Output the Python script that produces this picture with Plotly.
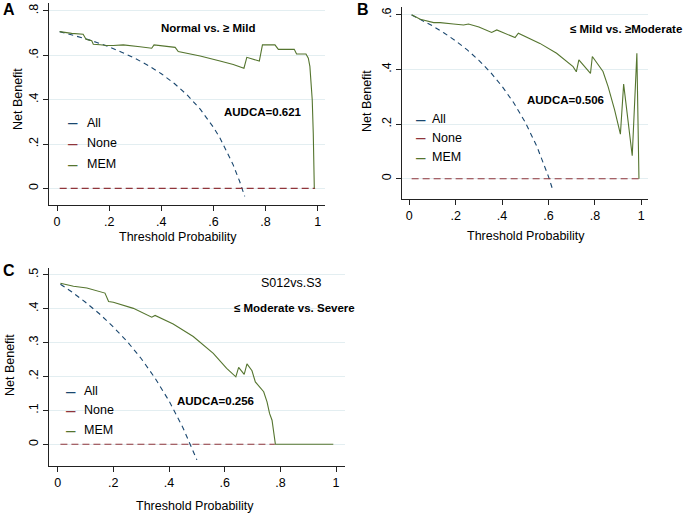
import plotly.graph_objects as go

W, H = 685, 515

# ---------------- data ----------------
series_names = ["All", "None", "MEM"]
x_tick_vals = [0, 0.2, 0.4, 0.6, 0.8, 1]
x_tick_text = ["0", ".2", ".4", ".6", ".8", "1"]

# Panel A : Normal vs. >= Mild
A_y_ticks = [0, 0.2, 0.4, 0.6, 0.8]
A_y_text = ["0", ".2", ".4", ".6", ".8"]
A_all_x = [0.01, 0.05, 0.10, 0.15, 0.20, 0.25, 0.30, 0.35, 0.40, 0.45, 0.50, 0.55, 0.60, 0.625, 0.65, 0.675, 0.70, 0.72]
A_all_y = [0.707, 0.695, 0.678, 0.659, 0.638, 0.613, 0.586, 0.554, 0.517, 0.473, 0.420, 0.356, 0.275, 0.227, 0.171, 0.108, 0.033, -0.036]
A_none_x = [0.01, 0.99]
A_none_y = [0, 0]
A_mem_x = [0.01, 0.056, 0.10, 0.111, 0.133, 0.139, 0.165, 0.19, 0.216, 0.254, 0.318, 0.363, 0.372, 0.453, 0.465,
           0.549, 0.625, 0.676, 0.717, 0.728, 0.776, 0.788, 0.836, 0.849, 0.910, 0.919, 0.955, 0.964, 0.970,
           0.974, 0.979, 0.983, 0.987]
A_mem_y = [0.707, 0.699, 0.695, 0.672, 0.666, 0.650, 0.648, 0.644, 0.644, 0.647, 0.639, 0.632, 0.647, 0.636, 0.617,
           0.597, 0.574, 0.559, 0.542, 0.591, 0.574, 0.647, 0.647, 0.627, 0.627, 0.606, 0.606, 0.587, 0.55,
           0.466, 0.40, 0.248, 0.0]

# Panel B : <= Mild vs. >= Moderate
B_y_ticks = [0, 0.2, 0.4, 0.6]
B_y_text = ["0", ".2", ".4", ".6"]
B_all_x = [0.01, 0.05, 0.10, 0.15, 0.20, 0.25, 0.30, 0.35, 0.40, 0.45, 0.50, 0.55, 0.60, 0.62]
B_all_y = [0.599, 0.582, 0.559, 0.533, 0.504, 0.471, 0.433, 0.389, 0.338, 0.278, 0.206, 0.118, 0.008, -0.045]
B_none_x = [0.01, 0.99]
B_none_y = [0, 0]
B_mem_x = [0.01, 0.047, 0.105, 0.133, 0.19, 0.234, 0.255, 0.30, 0.355, 0.377, 0.456, 0.47, 0.563, 0.635, 0.706,
           0.72, 0.731, 0.781, 0.789, 0.835, 0.857, 0.885, 0.91, 0.924, 0.961, 0.981, 0.99]
B_mem_y = [0.600, 0.583, 0.571, 0.571, 0.566, 0.562, 0.566, 0.555, 0.535, 0.544, 0.516, 0.532, 0.495, 0.459, 0.41,
           0.391, 0.435, 0.385, 0.447, 0.392, 0.337, 0.252, 0.163, 0.346, 0.084, 0.459, 0.0]

# Panel C : <= Moderate vs. Severe
C_y_ticks = [0, 0.1, 0.2, 0.3, 0.4, 0.5]
C_y_text = ["0", ".1", ".2", ".3", ".4", ".5"]
C_all_x = [0.01, 0.05, 0.10, 0.15, 0.20, 0.25, 0.30, 0.35, 0.40, 0.45, 0.50]
C_all_y = [0.472, 0.450, 0.419, 0.385, 0.346, 0.303, 0.253, 0.195, 0.128, 0.049, -0.046]
C_none_x = [0.01, 0.78]
C_none_y = [0, 0]
C_mem_x = [0.01, 0.057, 0.105, 0.14, 0.17, 0.183, 0.2, 0.272, 0.338, 0.35, 0.415, 0.487, 0.559, 0.607, 0.64,
           0.65, 0.67, 0.68, 0.698, 0.71, 0.74, 0.752, 0.761, 0.77, 0.782, 0.99]
C_mem_y = [0.475, 0.466, 0.461, 0.453, 0.446, 0.421, 0.419, 0.401, 0.375, 0.38, 0.355, 0.318, 0.268, 0.224, 0.199,
           0.227, 0.206, 0.237, 0.217, 0.184, 0.155, 0.125, 0.091, 0.071, 0.0, 0.0]

col_all = "#1a476f"
col_none = "#90353b"
col_mem = "#55752f"
FONT = "Liberation Sans, Arial, sans-serif"

fig = go.Figure()

panels = [
    dict(xa="x", ya="y", ax_x="xaxis", ax_y="yaxis",
         all=(A_all_x, A_all_y), none=(A_none_x, A_none_y), mem=(A_mem_x, A_mem_y),
         xdom=[49 / W, 325 / W], ydom=[1 - 205 / H, 1 - 3 / H], xr=[-0.031, 1.028], yr=[-0.075, 0.836],
         yt=(A_y_ticks, A_y_text)),
    dict(xa="x2", ya="y2", ax_x="xaxis2", ax_y="yaxis2",
         all=(B_all_x, B_all_y), none=(B_none_x, B_none_y), mem=(B_mem_x, B_mem_y),
         xdom=[402 / W, 648 / W], ydom=[1 - 199 / H, 1 - 7 / H], xr=[-0.0315, 1.029], yr=[-0.074, 0.628],
         yt=(B_y_ticks, B_y_text)),
    dict(xa="x3", ya="y3", ax_x="xaxis3", ax_y="yaxis3",
         all=(C_all_x, C_all_y), none=(C_none_x, C_none_y), mem=(C_mem_x, C_mem_y),
         xdom=[49 / W, 345 / W], ydom=[1 - 466 / H, 1 - 268 / H], xr=[-0.031, 1.032], yr=[-0.064, 0.52],
         yt=(C_y_ticks, C_y_text)),
]

for p in panels:
    fig.add_trace(go.Scatter(x=p["all"][0], y=p["all"][1], mode="lines", name=series_names[0],
                             line=dict(color=col_all, width=1.1, dash="5px,4px"),
                             xaxis=p["xa"], yaxis=p["ya"], showlegend=False))
    fig.add_trace(go.Scatter(x=p["none"][0], y=p["none"][1], mode="lines", name=series_names[1],
                             line=dict(color=col_none, width=1.1, dash="7px,4px"),
                             xaxis=p["xa"], yaxis=p["ya"], showlegend=False))
    fig.add_trace(go.Scatter(x=p["mem"][0], y=p["mem"][1], mode="lines", name=series_names[2],
                             line=dict(color=col_mem, width=1.1),
                             xaxis=p["xa"], yaxis=p["ya"], showlegend=False))
    fig.layout[p["ax_x"]] = dict(domain=p["xdom"], range=p["xr"], anchor=p["ya"],
                                 tickvals=x_tick_vals, ticktext=x_tick_text,
                                 showgrid=False, zeroline=False, showline=True, linecolor="#222222",
                                 linewidth=1, ticks="outside", ticklen=5, tickcolor="#222222",
                                 tickfont=dict(size=12.5, color="black", family=FONT))
    fig.layout[p["ax_y"]] = dict(domain=p["ydom"], range=p["yr"], anchor=p["xa"],
                                 tickvals=p["yt"][0], ticktext=p["yt"][1], tickangle=-90,
                                 showgrid=True, gridcolor="#e3eef1", gridwidth=1,
                                 zeroline=False, showline=True, linecolor="#222222",
                                 linewidth=1, ticks="outside", ticklen=5, tickcolor="#222222",
                                 tickfont=dict(size=12.5, color="black", family=FONT))


def px(x):
    return x / W


def py(y):
    return 1 - y / H


ann = []


def text(t, x, y, size=12.5, bold=False, xanchor="center", color="black", angle=0):
    ann.append(dict(text=("<b>%s</b>" % t) if bold else t, x=px(x), y=py(y), xref="paper", yref="paper",
                    showarrow=False, xanchor=xanchor, yanchor="middle", textangle=angle,
                    font=dict(size=size, color=color, family=FONT)))


# panel letters
text("A", 9, 10, size=16, bold=True)
text("B", 362.5, 9, size=16, bold=True)
text("C", 9, 270, size=16, bold=True)

# panel titles & AUDCA
text("Normal vs. ≥ Mild", 208, 28, size=11.5, bold=True)
text("AUDCA=0.621", 222, 112, size=11.5, bold=True, xanchor="left")
text("≤ Mild vs. ≥Moderate", 567.5, 29, size=11.5, bold=True, xanchor="left")
text("AUDCA=0.506", 525, 100, size=11.5, bold=True, xanchor="left")
text("S012vs.S3", 291.5, 283, size=12.5)
text("≤ Moderate vs. Severe", 231.5, 308, size=11.5, bold=True, xanchor="left")
text("AUDCA=0.256", 175, 401, size=11.5, bold=True, xanchor="left")

# axis titles
text("Net Benefit", 18, 99, angle=-90)
text("Threshold Probability", 178, 237)
text("Net Benefit", 367, 101, angle=-90)
text("Threshold Probability", 526, 236)
text("Net Benefit", 10, 365, angle=-90)
text("Threshold Probability", 195, 506)

# legends
leg_cols = [col_all, col_none, col_mem]
for (dx, tx, ys) in [(73, 85, [123, 143.5, 164]), (421, 430, [119, 138, 157]), (71, 82, [391, 410, 430])]:
    for name, c, yy in zip(series_names, leg_cols, ys):
        text("–", dx, yy, size=17, color=c)
        text(name, tx, yy, size=12.5, xanchor="left")

fig.update_layout(width=W, height=H, margin=dict(l=0, r=0, t=0, b=0),
                  paper_bgcolor="white", plot_bgcolor="white", annotations=ann,
                  font=dict(family=FONT))

fig.write_html("out.html", config={"displayModeBar": False},
               post_script="document.body.style.margin='0px';document.body.style.overflow='hidden';")
